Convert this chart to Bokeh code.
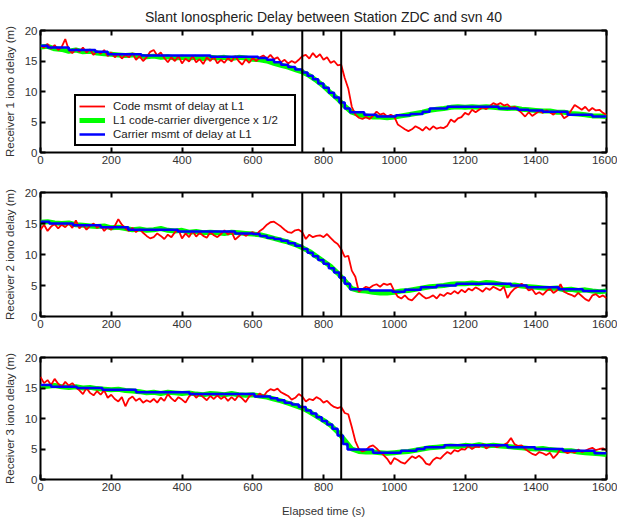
from bokeh.plotting import figure
from bokeh.models import Range1d, LinearAxis, FixedTicker, Span, Legend, LegendItem
from bokeh.layouts import column
from bokeh.embed import file_html
from bokeh.resources import INLINE

title_text = "Slant Ionospheric Delay between Station ZDC and svn 40"
x_label = "Elapsed time (s)"
y_labels = ["Receiver 1 iono delay (m)", "Receiver 2 iono delay (m)", "Receiver 3 iono delay (m)"]
series_names = ["Code msmt of delay at L1", "L1 code-carrier divergence x 1/2", "Carrier msmt of delay at L1"]
x_ticks = [0, 200, 400, 600, 800, 1000, 1200, 1400, 1600]
y_ticks = [0, 5, 10, 15, 20]
event_times = [740, 850]

# code measurement, sampled every 10 s
code1 = [17.5, 17.2, 17.8, 17.0, 17.6, 16.8, 17.3, 18.6, 16.8, 16.3, 17.0,
         16.5, 17.2, 16.4, 16.9, 16.0, 16.6, 16.2, 16.8, 15.8, 16.4,
         15.6, 16.2, 15.4, 16.0, 15.6, 16.3, 15.2, 15.8, 15.0, 15.6,
         16.5, 16.8, 15.9, 16.4, 15.5, 14.8, 15.6, 15.0, 15.8, 14.6,
         15.4, 14.9, 15.8, 14.8, 15.3, 14.5, 15.6, 15.0, 15.7, 14.6,
         15.2, 14.7, 15.5, 14.9, 15.8, 15.0, 14.4, 15.3, 14.7, 15.5,
         15.0, 15.6, 15.9, 15.4, 16.0, 15.3, 15.6, 14.8, 15.2, 14.6,
         15.0, 14.7, 15.2, 15.8, 16.0, 15.4, 16.3, 15.6, 16.1, 15.2,
         15.6, 14.7, 15.0, 14.3, 14.4, 12.2, 10.5, 7.5, 6.2, 5.7,
         5.5, 5.8, 5.5, 6.0, 6.7, 6.2, 6.4, 5.9, 6.2, 5.9,
         4.6, 4.2, 3.8, 3.5, 3.8, 4.3, 4.0, 3.6, 4.2, 3.7,
         4.3, 3.9, 4.1, 4.0, 4.4, 5.4, 5.0, 5.6, 5.8, 6.5,
         6.2, 7.0, 6.6, 7.0, 7.4, 7.1, 7.6, 8.1, 7.8, 8.1,
         7.7, 7.9, 7.3, 7.5, 7.0, 6.5, 5.9, 6.6, 6.0, 6.4,
         6.8, 6.5, 6.9, 6.6, 6.2, 6.8, 6.5, 5.6, 6.0, 6.9,
         7.8, 7.4, 7.0, 7.5, 6.8, 7.3, 6.9, 7.0, 6.5, 6.2]
code2 = [14.0, 14.8, 13.8, 14.5, 14.9, 14.2, 14.8, 14.4, 15.0, 14.3, 15.5,
         14.2, 14.8, 14.0, 14.6, 15.0, 14.3, 14.7, 13.8, 14.4, 14.0,
         14.6, 15.7, 14.8, 14.2, 13.8, 14.3, 13.6, 14.1, 13.5, 13.0,
         12.6, 12.8, 13.4, 13.0, 12.5, 13.2, 12.8, 13.6, 14.0, 12.6,
         13.4, 12.8, 13.8, 12.9, 13.5, 13.0, 12.7, 13.6, 13.1, 12.8,
         13.3, 13.9, 13.2, 13.7, 12.4, 12.9, 13.5, 13.0, 13.4, 13.6,
         13.2, 13.8, 14.2, 14.8, 15.2, 15.3, 14.9, 14.5, 14.0, 13.6,
         13.5, 13.9, 14.0, 13.6, 12.5, 13.2, 12.8, 13.0, 13.1, 12.8,
         13.3, 12.7, 12.1, 11.7, 10.9, 9.6, 9.8, 7.4, 6.4, 4.0,
         4.4, 4.8, 4.6, 5.0, 5.2, 4.8, 5.3, 5.1, 5.3, 4.1,
         3.2, 2.9, 3.4, 2.8, 2.6, 3.2, 3.8, 3.3, 2.9, 3.1,
         3.4, 2.9, 3.6, 3.3, 3.8, 3.6, 4.1, 3.7, 4.3, 3.9,
         4.5, 4.2, 4.7, 4.4, 4.0, 4.6, 4.3, 4.8, 4.5, 4.2,
         4.8, 3.0, 3.9, 4.5, 4.8, 5.3, 4.9, 4.2, 4.4, 3.6,
         3.9, 3.5, 4.1, 4.5, 3.8, 4.2, 5.2, 4.0, 3.7, 3.5,
         3.2, 3.8, 3.3, 2.8, 2.5, 3.4, 3.6, 3.1, 3.4, 3.0]
code3 = [16.8, 15.8, 16.3, 15.5, 16.5, 15.7, 15.2, 16.0, 15.4, 15.8, 15.1,
         14.6, 14.0, 15.0, 14.2, 13.8, 14.5, 13.9, 14.6, 13.4, 13.9,
         13.2, 12.8, 13.5, 12.0, 13.2, 13.6, 12.9, 13.3, 12.6, 13.0,
         12.7, 13.2, 12.6, 13.4, 12.9, 14.0, 13.3, 12.8, 13.5, 13.1,
         12.6, 13.6, 14.2, 13.4, 14.0, 13.5, 13.0, 13.7, 13.2, 13.8,
         13.2, 13.6, 12.9, 13.5, 13.0, 13.8, 13.3, 12.7, 13.6, 14.0,
         13.5, 14.1, 13.6, 14.4, 14.8, 14.6, 14.9, 14.3, 14.0, 13.7,
         13.1, 13.4, 14.0, 13.6, 12.8, 13.2, 13.0, 13.5, 13.2, 12.6,
         12.9, 12.3, 11.9, 11.7, 11.9, 10.9, 10.7, 8.6, 6.3, 5.0,
         4.6, 4.8, 5.4, 5.6, 5.1, 4.5, 4.0, 3.4, 2.5, 3.5,
         3.2, 2.8, 2.6, 3.2, 3.8, 3.5, 3.9, 3.4, 2.6, 2.4,
         3.2, 3.6, 3.4, 4.0, 4.5, 4.2, 4.8, 4.6, 5.0, 4.9,
         5.5, 5.0, 5.4, 5.3, 5.8, 5.1, 5.5, 5.6, 5.3, 5.5,
         5.7, 6.0, 6.8, 5.8, 5.5, 5.6, 5.0, 4.6, 4.2, 4.0,
         4.5, 4.3, 4.0, 4.4, 3.5, 4.1, 5.0, 4.6, 4.3, 4.6,
         4.4, 4.9, 4.5, 4.7, 5.0, 5.2, 4.8, 5.0, 5.1, 4.8]

# code-carrier divergence x 1/2, sampled every 20 s
div1 = [17.3, 17.4, 17.0, 16.9, 16.6, 16.8, 16.5, 16.6, 16.3, 16.2,
        16.1, 16.0, 15.9, 16.0, 15.8, 15.7, 15.8, 15.6, 15.7, 15.5,
        15.6, 15.5, 15.6, 15.4, 15.6, 15.5, 15.6, 15.4, 15.6, 15.5,
        15.3, 15.2, 15.0, 14.6, 14.3, 14.0, 13.6, 13.2, 12.6, 11.8,
        10.9, 9.8, 8.8, 7.6, 6.6, 6.2, 6.0, 5.8, 5.8, 5.7,
        5.8, 6.0, 6.2, 6.4, 6.6, 6.9, 7.1, 7.2, 7.4, 7.5,
        7.4, 7.5, 7.4, 7.5, 7.4, 7.3, 7.2, 7.3, 7.1, 7.0,
        6.9, 6.8, 6.8, 6.6, 6.6, 6.4, 6.3, 6.2, 6.0, 6.0,
        5.9]
div2 = [15.2, 15.3, 15.1, 15.0, 15.1, 14.8, 14.7, 14.6, 14.5, 14.6,
        14.3, 14.4, 14.2, 14.0, 14.1, 13.9, 14.0, 14.2, 13.9, 13.8,
        13.9, 13.6, 13.7, 13.5, 13.6, 13.5, 13.4, 13.6, 13.5, 13.4,
        13.3, 13.2, 12.9, 12.6, 12.3, 12.0, 11.6, 11.1, 10.5, 9.7,
        8.9, 8.1, 7.0, 5.8, 4.5, 4.2, 4.1, 3.9, 3.8, 3.8,
        3.9, 4.1, 4.2, 4.4, 4.6, 4.8, 4.9, 5.0, 5.2, 5.3,
        5.3, 5.4, 5.3, 5.5, 5.4, 5.2, 5.0, 5.1, 4.9, 4.8,
        4.7, 4.6, 4.5, 4.6, 4.3, 4.4, 4.2, 4.3, 4.1, 4.0,
        4.1]
div3 = [15.2, 15.3, 15.4, 15.2, 15.1, 15.2, 15.0, 15.1, 14.9, 14.8,
        14.7, 14.8, 14.6, 14.5, 14.4, 14.2, 14.3, 14.1, 14.3, 14.2,
        14.1, 14.2, 14.0, 13.9, 14.1, 14.0, 13.9, 14.1, 13.9, 13.8,
        13.9, 13.7, 13.5, 13.2, 12.9, 12.5, 12.1, 11.7, 11.1, 10.4,
        9.7, 8.9, 7.8, 6.4, 5.0, 4.6, 4.5, 4.5, 4.4, 4.3,
        4.4, 4.5, 4.6, 4.8, 5.0, 5.2, 5.3, 5.4, 5.5, 5.4,
        5.6, 5.5, 5.7, 5.5, 5.6, 5.5, 5.4, 5.3, 5.2, 5.1,
        5.0, 5.1, 4.9, 4.8, 4.7, 4.7, 4.5, 4.4, 4.3, 4.2,
        4.1]

# carrier measurement: step levels (start time, level)
carr1_t = [0, 20, 80, 155, 190, 285, 480, 615, 640, 660, 680, 700, 720, 740, 755, 770, 785, 800,
           815, 830, 845, 860, 875, 915, 950, 1005, 1045, 1080, 1100, 1150, 1295, 1350, 1380, 1420,
           1490, 1560, 1600]
carr1_v = [17.5, 17.2, 16.8, 16.5, 16.1, 15.9, 15.7, 15.5, 15.2, 14.8, 14.4, 14.0, 13.6, 13.1, 12.6,
           12.0, 11.3, 10.6, 9.8, 9.0, 8.2, 7.2, 6.6, 6.2, 5.9, 6.1, 6.3, 6.7, 7.2, 7.5, 7.2, 7.0,
           6.9, 6.7, 6.2, 5.9, 5.9]
carr2_t = [0, 25, 92, 170, 248, 388, 550, 600, 620, 640, 660, 680, 700, 720, 740, 755, 770, 785,
           800, 815, 830, 845, 860, 875, 930, 995, 1030, 1075, 1120, 1175, 1330, 1375, 1465, 1533,
           1600]
carr2_v = [15.3, 15.0, 14.7, 14.4, 14.0, 13.7, 13.4, 13.3, 13.0, 12.7, 12.5, 12.2, 11.8, 11.4,
           10.9, 10.3, 9.7, 9.1, 8.5, 7.8, 7.1, 6.3, 5.3, 4.4, 4.2, 4.0, 4.3, 4.7, 5.0, 5.3, 5.0,
           4.7, 4.4, 4.1, 4.1]
carr3_t = [0, 30, 103, 175, 270, 421, 605, 650, 670, 690, 710, 730, 750, 765, 780, 795, 810, 825,
           840, 855, 868, 940, 1019, 1063, 1086, 1142, 1320, 1398, 1477, 1566, 1600]
carr3_v = [15.5, 15.2, 15.0, 14.7, 14.3, 14.0, 13.6, 13.3, 13.0, 12.6, 12.3, 11.9, 11.3, 10.8,
           10.2, 9.6, 9.0, 8.3, 7.2, 5.8, 4.9, 4.4, 4.7, 5.0, 5.3, 5.6, 5.3, 5.0, 4.7, 4.3, 4.3]

FONT = "Liberation Sans"
TXT = "#333333"


def style_axis(ax, ticks, show_labels=True):
    ax.axis_line_color = None
    ax.major_tick_in = 5
    ax.major_tick_out = 0
    ax.major_tick_line_width = 2
    ax.major_tick_line_color = "black"
    ax.minor_tick_line_color = None
    ax.major_label_text_font = FONT
    ax.major_label_text_color = TXT
    ax.major_label_text_font_size = "11.5px"
    if show_labels:
        ax.major_label_standoff = 3
    else:
        ax.major_label_overrides = {t: "" for t in ticks}
        ax.major_label_standoff = 0
    ax.axis_label_text_font = FONT
    ax.axis_label_text_font_size = "11.5px"
    ax.axis_label_text_font_style = "normal"
    ax.axis_label_text_color = TXT


def make_panel(i, code, div, ct, cv, top, bottom, fh, with_title=False, with_xlabel=False, with_legend=False):
    p = figure(frame_width=566, frame_height=fh, x_range=Range1d(0, 1600), y_range=Range1d(0, 20),
               output_backend="svg", toolbar_location=None,
               min_border_left=40, min_border_right=11, min_border_top=top, min_border_bottom=bottom,
               outline_line_color="black", outline_line_width=2, outline_line_alpha=1,
               background_fill_color="white", border_fill_color="white")
    p.grid.visible = False
    if with_title:
        p.title.text = title_text
        p.title.align = "center"
        p.title.text_font = FONT
        p.title.text_font_size = "14px"
        p.title.text_font_style = "normal"
        p.title.text_color = "#222222"
        p.title.standoff = 11
    p.xaxis.ticker = FixedTicker(ticks=x_ticks)
    p.yaxis.ticker = FixedTicker(ticks=y_ticks)
    style_axis(p.xaxis[0], x_ticks)
    style_axis(p.yaxis[0], y_ticks)
    p.yaxis.axis_label = y_labels[i]
    p.yaxis.axis_label_standoff = 6
    if with_xlabel:
        p.xaxis.axis_label = x_label
        p.xaxis.axis_label_standoff = 11
    ra = LinearAxis(ticker=FixedTicker(ticks=y_ticks))
    style_axis(ra, y_ticks, False)
    p.add_layout(ra, "right")
    ta = LinearAxis(ticker=FixedTicker(ticks=x_ticks))
    style_axis(ta, x_ticks, False)
    p.add_layout(ta, "above")

    t_code = [10 * k for k in range(len(code))]
    t_div = [20 * k for k in range(len(div))]
    r_div = p.line(t_div, div, line_color="#00ff00", line_width=5)
    r_code = p.line(t_code, code, line_color="#ff0000", line_width=1.8)
    r_carr = p.step(ct, cv, mode="after", line_color="#0000ff", line_width=2.5)
    for et in event_times:
        p.add_layout(Span(location=et, dimension="height", line_color="black", line_width=2))
    if with_legend:
        leg = Legend(items=[LegendItem(label=series_names[0], renderers=[r_code]),
                            LegendItem(label=series_names[1], renderers=[r_div]),
                            LegendItem(label=series_names[2], renderers=[r_carr])],
                     location=(34, 6))
        leg.border_line_color = "black"
        leg.border_line_alpha = 1
        leg.border_line_width = 2
        leg.background_fill_color = "white"
        leg.background_fill_alpha = 1
        leg.label_text_font = FONT
        leg.label_text_font_size = "11.5px"
        leg.label_text_color = "#222222"
        leg.glyph_width = 26
        leg.glyph_height = 14
        leg.label_height = 14
        leg.label_width = 178
        leg.spacing = 0
        leg.padding = 3
        leg.margin = 0
        leg.label_standoff = 8
        p.add_layout(leg)
    return p


p1 = make_panel(0, code1, div1, carr1_t, carr1_v, 30, 20, 122, with_title=True, with_legend=True)
p2 = make_panel(1, code2, div2, carr2_t, carr2_v, 20, 20, 124)
p3 = make_panel(2, code3, div3, carr3_t, carr3_v, 21, 41, 122, with_xlabel=True)

layout = column(p1, p2, p3, spacing=0)
open("out.html", "w").write(file_html(layout, INLINE))
